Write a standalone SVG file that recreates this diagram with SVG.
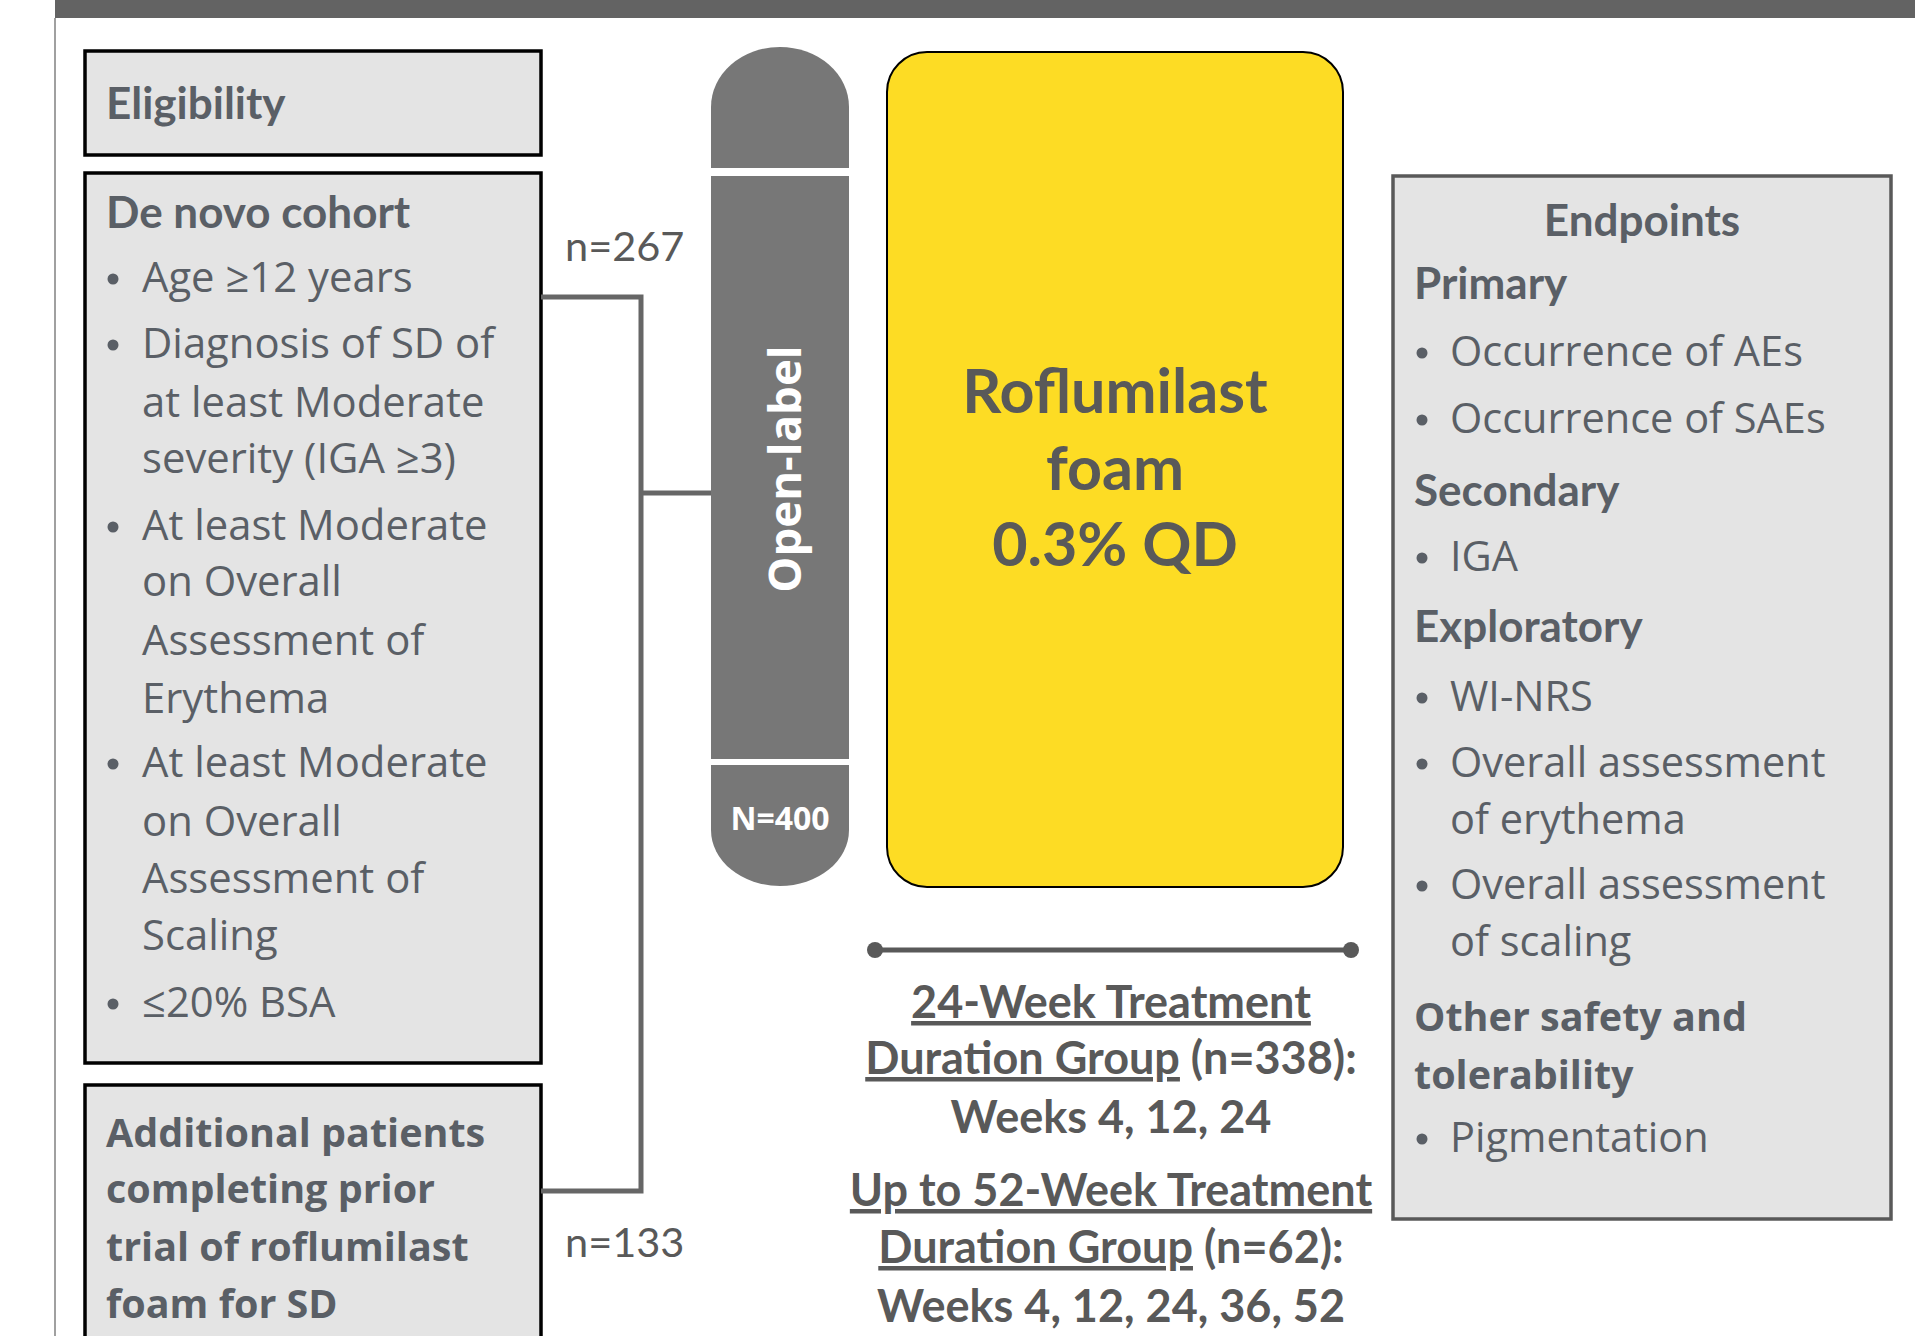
<svg xmlns="http://www.w3.org/2000/svg" width="1915" height="1336" viewBox="0 0 1915 1336">
<style>
.cal{font-family:Lato,"Liberation Sans",sans-serif;font-weight:700}
.calr{font-family:Lato,"Liberation Sans",sans-serif;font-weight:400}
.seg{font-family:"Open Sans","Noto Sans",sans-serif;font-weight:400}
.segb{font-family:"Open Sans","Noto Sans",sans-serif;font-weight:700}
.tl{fill:#5a5f66}
.tg{fill:#595959}
.lbox{fill:#e4e4e4;stroke:#000;stroke-width:3.5}
.ebox{fill:#e4e4e4;stroke:#595959;stroke-width:3.5}
.conn{fill:none;stroke:#666;stroke-width:5}
.bar{fill:#777}
.dot{fill:#5a5f66}
.u{text-decoration:underline}
</style>
<rect x="0" y="0" width="1915" height="1336" fill="#fff"/>
<rect x="55" y="0" width="1860" height="18" fill="#636363"/>
<line x1="55" y1="18" x2="55" y2="1336" stroke="#a0a0a0" stroke-width="2"/>

<g id="eligibility">
<rect class="lbox" x="85" y="51" width="456" height="104"/>
<text class="cal tl" x="106" y="119" font-size="44">Eligibility</text>
</g>

<g id="denovo">
<rect class="lbox" x="85" y="173" width="456" height="890"/>
<text class="cal tl" x="106" y="228" font-size="44">De novo cohort</text>
<g class="seg tl" font-size="41.8">
<circle class="dot" cx="113" cy="279" r="5.5"/>
<text x="142" y="292">Age ≥12 years</text>
<circle class="dot" cx="113" cy="345" r="5.5"/>
<text x="142" y="358">Diagnosis of SD of</text>
<text x="142" y="417">at least Moderate</text>
<text x="142" y="473">severity (IGA ≥3)</text>
<circle class="dot" cx="113" cy="527" r="5.5"/>
<text x="142" y="540">At least Moderate</text>
<text x="142" y="596">on Overall</text>
<text x="142" y="655">Assessment of</text>
<text x="142" y="713">Erythema</text>
<circle class="dot" cx="113" cy="764" r="5.5"/>
<text x="142" y="777">At least Moderate</text>
<text x="142" y="836">on Overall</text>
<text x="142" y="893">Assessment of</text>
<text x="142" y="950">Scaling</text>
<circle class="dot" cx="113" cy="1004" r="5.5"/>
<text x="142" y="1017">≤20% BSA</text>
</g>
</g>

<g id="additional">
<rect class="lbox" x="85" y="1085" width="456" height="270"/>
<g class="segb tl" font-size="39.5">
<text x="106" y="1147">Additional patients</text>
<text x="106" y="1203">completing prior</text>
<text x="106" y="1261">trial of roflumilast</text>
<text x="106" y="1318">foam for SD</text>
</g>
</g>

<g id="connectors">
<polyline class="conn" points="541,297 641,297 641,1191 541,1191"/>
<line class="conn" x1="641" y1="493" x2="711" y2="493"/>
</g>

<g id="labels-n">
<text class="calr tg" x="565" y="261" font-size="41.5">n=267</text>
<text class="calr tg" x="565" y="1257" font-size="41.5">n=133</text>
</g>

<g id="openlabel">
<path class="bar" d="M711,168 L711,107 A69,60 0 0 1 849,107 L849,168 Z"/>
<rect class="bar" x="711" y="176" width="138" height="583"/>
<path class="bar" d="M711,765 L849,765 L849,830 A69,56 0 0 1 711,830 Z"/>
<text class="segb" fill="#fff" font-size="45.5" text-anchor="middle" transform="translate(801,469) rotate(-90)">Open-label</text>
<text class="segb" fill="#fff" font-size="32" x="780" y="830" text-anchor="middle">N=400</text>
</g>

<g id="treatment">
<rect x="887" y="52" width="456" height="835" rx="40" ry="40" fill="#fddc24" stroke="#000" stroke-width="2"/>
<g class="cal tg" font-size="61" text-anchor="middle">
<text x="1115" y="413">Roflumilast</text>
<text x="1115" y="490">foam</text>
<text x="1115" y="566">0.3% QD</text>
</g>
</g>

<g id="timeline">
<line x1="875" y1="950" x2="1351" y2="950" stroke="#595959" stroke-width="5"/>
<circle cx="875" cy="950" r="8" fill="#595959"/>
<circle cx="1351" cy="950" r="8" fill="#595959"/>
<g class="cal tg" font-size="45" text-anchor="middle">
<text x="1111" y="1018"><tspan class="u">24-Week Treatment</tspan></text>
<text x="1111" y="1074"><tspan class="u">Duration Group</tspan> (n=338):</text>
<text x="1111" y="1133">Weeks 4, 12, 24</text>
<text x="1111" y="1206"><tspan class="u">Up to 52-Week Treatment</tspan></text>
<text x="1111" y="1263"><tspan class="u">Duration Group</tspan> (n=62):</text>
<text x="1111" y="1322">Weeks 4, 12, 24, 36, 52</text>
</g>
</g>

<g id="endpoints">
<rect class="ebox" x="1393" y="176" width="498" height="1043"/>
<text class="cal tl" x="1642" y="236" font-size="44" text-anchor="middle">Endpoints</text>
<text class="cal tl" x="1414" y="299" font-size="44">Primary</text>
<g class="seg tl" font-size="41.5">
<circle class="dot" cx="1422" cy="353" r="5.5"/>
<text x="1450" y="366">Occurrence of AEs</text>
<circle class="dot" cx="1422" cy="420" r="5.5"/>
<text x="1450" y="433">Occurrence of SAEs</text>
</g>
<text class="cal tl" x="1414" y="506" font-size="44">Secondary</text>
<g class="seg tl" font-size="41.5">
<circle class="dot" cx="1422" cy="558" r="5.5"/>
<text x="1450" y="571">IGA</text>
</g>
<text class="cal tl" x="1414" y="642" font-size="44">Exploratory</text>
<g class="seg tl" font-size="41.5">
<circle class="dot" cx="1422" cy="698" r="5.5"/>
<text x="1450" y="711">WI-NRS</text>
<circle class="dot" cx="1422" cy="764" r="5.5"/>
<text x="1450" y="777">Overall assessment</text>
<text x="1450" y="834">of erythema</text>
<circle class="dot" cx="1422" cy="886" r="5.5"/>
<text x="1450" y="899">Overall assessment</text>
<text x="1450" y="956">of scaling</text>
</g>
<g class="segb tl" font-size="39.5">
<text x="1414" y="1031">Other safety and</text>
<text x="1414" y="1089">tolerability</text>
</g>
<g class="seg tl" font-size="41.5">
<circle class="dot" cx="1422" cy="1139" r="5.5"/>
<text x="1450" y="1152">Pigmentation</text>
</g>
</g>
</svg>
